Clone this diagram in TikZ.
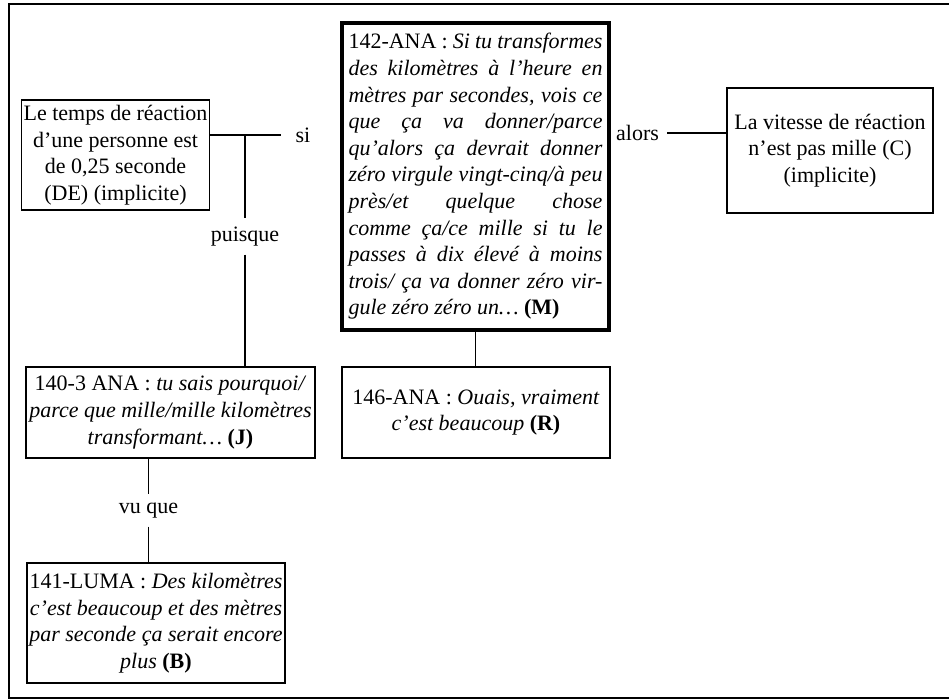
\documentclass[tikz,border=0pt]{standalone}
\usepackage{fontspec}
\setmainfont{Liberation Serif}
\usetikzlibrary{positioning,calc}
\hyphenpenalty=10000

\begin{document}
\begin{tikzpicture}[x=0.5pt,y=-0.5pt,
  font=\fontsize{11}{13.3}\selectfont,
  box/.style={draw,line width=0.8pt,inner sep=1pt,align=center},
  bigbox/.style={draw,line width=1.6pt,inner sep=2pt,align=justify},
  word/.style={inner sep=4pt}]
  \useasboundingbox (0,0) rectangle (949,700);
  \draw [line width=1pt] (9,4) rectangle (990,698);

  \node [box,minimum width=90.5pt,minimum height=55pt] (de) at (115.5,155)
    {Le temps de réaction\\d'une personne est\\de 0,25 seconde\\(DE) (implicite)};
  \node [bigbox,text width=127pt,minimum width=133.5pt,minimum height=153.5pt] (m) at (475.5,176.5)
    {142-ANA : \textit{Si tu transformes\linebreak des kilomètres à l'heure en\linebreak
     mètres par secondes, vois ce\linebreak que ça va donner/parce\linebreak
     qu'alors ça devrait donner\linebreak zéro virgule vingt-cinq/à peu\linebreak
     près/et quelque chose\linebreak comme ça/ce mille si tu le\linebreak
     passes à dix élevé à moins\linebreak trois/ ça va donner zéro vir-\linebreak
     gule zéro zéro un\dots} \textbf{(M)}};
  \node [box,minimum width=103pt,minimum height=62.5pt] (c) at (830,150.5)
    {La vitesse de réaction\\n'est pas mille (C)\\(implicite)};
  \node [box,minimum width=134pt,minimum height=45.5pt] (r) at (476,412.5)
    {146-ANA : \textit{Ouais, vraiment}\\\textit{c'est beaucoup} \textbf{(R)}};
  \node [box,minimum width=144.5pt,minimum height=45.5pt] (j) at (170.5,412.5)
    {140-3 ANA : \textit{tu sais pourquoi/}\\\textit{parce que mille/mille kilomètres}\\
     \textit{transformant\dots} \textbf{(J)}};
  \node [box,minimum width=129pt,minimum height=60pt] (b) at (156,623)
    {141-LUMA : \textit{Des kilomètres}\\\textit{c'est beaucoup et des mètres}\\
     \textit{par seconde ça serait encore}\\\textit{plus} \textbf{(B)}};

  \node [word] (si) at (303,135) {si};
  \node [word] (alors) at (637.5,133) {alors};
  \node [word] (puisque) at (245,236.5) {puisque};
  \node [word] (vuque) at (148.5,510.5) {vu que};

  \draw [line width=0.8pt] (de.east |- si) -- ([xshift=-3pt]si.west);
  \draw [line width=0.8pt] (puisque |- si) -- (puisque.north);
  \draw [line width=0.8pt] (puisque.south) -- (puisque |- j.north);

  \draw [line width=0.8pt] (alors.east) -- (c.west |- alors);

  \draw [line width=0.8pt] (m.south) -- (m.south |- r.north);

  \draw [line width=0.8pt] (vuque |- j.south) -- (vuque.north);
  \draw [line width=0.8pt] (vuque.south) -- (vuque |- b.north);

\end{tikzpicture}
\end{document}
